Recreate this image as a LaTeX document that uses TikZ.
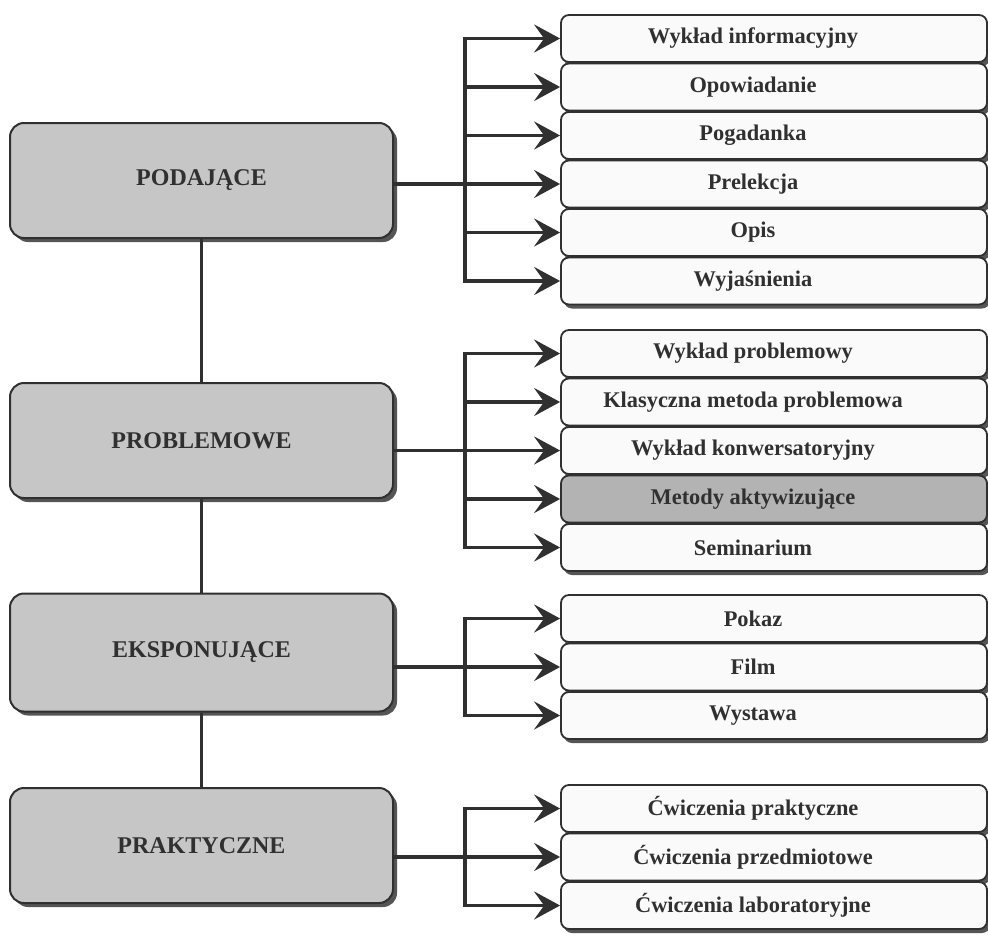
\documentclass[tikz,border=0pt]{standalone}
\usepackage{fontspec}
\setmainfont{Liberation Serif}
\usetikzlibrary{shadows,arrows.meta}
\definecolor{ink}{HTML}{303030}
\definecolor{lbox}{HTML}{C6C6C6}
\definecolor{rbox}{HTML}{FAFAFA}
\definecolor{dbox}{HTML}{B3B3B3}
\definecolor{shade}{HTML}{555555}
\newcommand{\rtxt}[1]{\makebox[384pt]{#1}\hspace*{42pt}}
\begin{document}
\begin{tikzpicture}[x=1pt,y=-1pt,
 catbox/.style={draw=ink, line width=2pt, fill=lbox, rounded corners=14pt,
   minimum width=383pt, minimum height=115pt, inner sep=0pt,
   font=\fontsize{24}{26}\selectfont\bfseries, text=ink,
   drop shadow={shadow xshift=4pt, shadow yshift=-4pt, opacity=1, fill=shade}},
 methbox/.style={draw=ink, line width=1.8pt, fill=rbox, rounded corners=8pt,
   minimum width=426pt, minimum height=47pt, inner sep=0pt,
   font=\fontsize{22.4}{25}\selectfont\bfseries, text=ink,
   drop shadow={shadow xshift=3pt, shadow yshift=-4pt, opacity=1, fill=shade}},
 link/.style={draw=ink, line width=3.4pt, line cap=rect},
 arr/.style={draw=ink, line width=3.4pt, -{Stealth[length=26pt,width=28pt,inset=10pt]}},
]
\useasboundingbox (0,0) rectangle (988,937);

% left category boxes
\node[catbox] (pod) at (201.5,180.5) {PODAJĄCE};
\node[catbox] (prob) at (201.5,440.5) {PROBLEMOWE};
\node[catbox, minimum height=118pt] (eks) at (201.5,652.5) {EKSPONUJĄCE};
\node[catbox] (prak) at (201.5,845.5) {PRAKTYCZNE};

\draw[link, line cap=butt] (pod.south) -- (prob.north);
\draw[link, line cap=butt] (prob.south) -- (eks.north);
\draw[link, line cap=butt] (eks.south) -- (prak.north);

% group 1
\node[methbox] (a1) at (774,38.5) {\rtxt{Wykład informacyjny}};
\node[methbox] (a2) at (774,87) {\rtxt{Opowiadanie}};
\node[methbox] (a3) at (774,135.5) {\rtxt{Pogadanka}};
\node[methbox] (a4) at (774,184) {\rtxt{Prelekcja}};
\node[methbox] (a5) at (774,232.5) {\rtxt{Opis}};
\node[methbox] (a6) at (774,281) {\rtxt{Wyjaśnienia}};

% group 2
\node[methbox] (b1) at (774,353.5) {\rtxt{Wykład problemowy}};
\node[methbox] (b2) at (774,402) {\rtxt{Klasyczna metoda problemowa}};
\node[methbox] (b3) at (774,450.5) {\rtxt{Wykład konwersatoryjny}};
\node[methbox, fill=dbox] (b4) at (774,499) {\rtxt{Metody aktywizujące}};
\node[methbox] (b5) at (774,547.5) {\rtxt{Seminarium}};

% group 3
\node[methbox] (c1) at (774,618.5) {\rtxt{Pokaz}};
\node[methbox] (c2) at (774,667) {\rtxt{Film}};
\node[methbox] (c3) at (774,715.5) {\rtxt{Wystawa}};

% group 4
\node[methbox] (d1) at (774,808.5) {\rtxt{Ćwiczenia praktyczne}};
\node[methbox] (d2) at (774,857) {\rtxt{Ćwiczenia przedmiotowe}};
\node[methbox] (d3) at (774,905.5) {\rtxt{Ćwiczenia laboratoryjne}};

\coordinate (bus) at (465,0);

% connectors group 1
\draw[link] (bus |- a1.west) -- (bus |- a6.west);
\foreach \n in {a1,a2,a3,a5,a6} \draw[arr] (bus |- \n.west) -- (\n.west);
\draw[arr] (pod.east |- a4.west) -- (a4.west);

% connectors group 2
\draw[link] (bus |- b1.west) -- (bus |- b5.west);
\foreach \n in {b1,b2,b4,b5} \draw[arr] (bus |- \n.west) -- (\n.west);
\draw[arr] (prob.east |- b3.west) -- (b3.west);

% connectors group 3
\draw[link] (bus |- c1.west) -- (bus |- c3.west);
\foreach \n in {c1,c3} \draw[arr] (bus |- \n.west) -- (\n.west);
\draw[arr] (eks.east |- c2.west) -- (c2.west);

% connectors group 4
\draw[link] (bus |- d1.west) -- (bus |- d3.west);
\foreach \n in {d1,d3} \draw[arr] (bus |- \n.west) -- (\n.west);
\draw[arr] (prak.east |- d2.west) -- (d2.west);
\end{tikzpicture}
\end{document}
